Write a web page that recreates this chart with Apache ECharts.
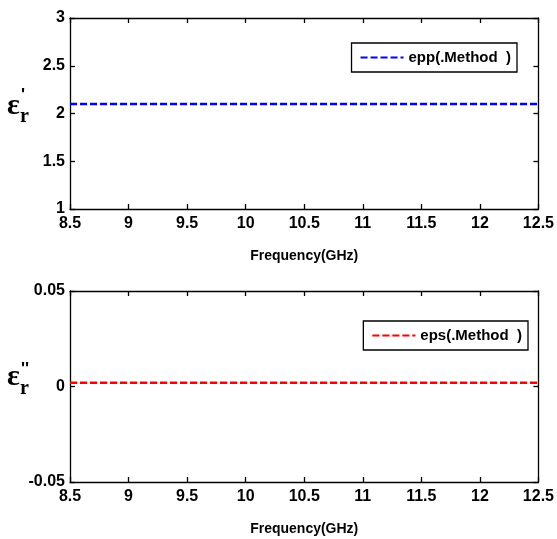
<!DOCTYPE html>
<html>
<head>
<meta charset="utf-8">
<script src="https://cdn.jsdelivr.net/npm/echarts@6/dist/echarts.min.js"></script>
<style>
html, body { margin: 0; padding: 0; background: #fff; }
#chart { width: 557px; height: 539px; }
</style>
</head>
<body>
<div id="chart"></div>
<script>
// 数据
var freq = [8.5, 9, 9.5, 10, 10.5, 11, 11.5, 12, 12.5];
var eppVals = [2.1, 2.1, 2.1, 2.1, 2.1, 2.1, 2.1, 2.1, 2.1];
var epsVals = [0.002, 0.002, 0.002, 0.002, 0.002, 0.002, 0.002, 0.002, 0.002];
var eppName = 'epp(.Method  )';
var epsName = 'eps(.Method  )';
var xLabel = 'Frequency(GHz)';

function pairs(xs, ys) {
    return xs.map(function (x, i) { return [x, ys[i]]; });
}

var sansBold = {color: '#000', fontFamily: 'Liberation Sans, Arial, sans-serif', fontWeight: 'bold'};

function xAx(gi, show) {
    return {
        type: 'value', gridIndex: gi, min: 8.5, max: 12.5, interval: 0.5,
        position: show ? 'bottom' : 'top',
        name: show ? xLabel : '',
        nameLocation: 'middle', nameGap: 40,
        nameTextStyle: Object.assign({fontSize: 14}, sansBold),
        axisLine: {show: true, onZero: false, lineStyle: {color: '#000', width: 1.3}},
        axisTick: {show: true, inside: true, length: 5, lineStyle: {color: '#000', width: 1.3}},
        axisLabel: Object.assign({show: show, fontSize: 16, margin: 7}, sansBold),
        splitLine: {show: false}
    };
}

function yAx(gi, min, max, step, show) {
    return {
        type: 'value', gridIndex: gi, min: min, max: max, interval: step,
        position: show ? 'left' : 'right',
        axisLine: {show: true, onZero: false, lineStyle: {color: '#000', width: 1.3}},
        axisTick: {show: true, inside: true, length: 5, lineStyle: {color: '#000', width: 1.3}},
        axisLabel: Object.assign({show: show, fontSize: 16, margin: 5}, sansBold),
        splitLine: {show: false}
    };
}

function legendBox(name, right, top) {
    return {
        data: [name], right: right, top: top,
        orient: 'horizontal',
        borderColor: '#000', borderWidth: 1.3,
        padding: [7, 6, 7, 8],
        itemWidth: 43, itemHeight: 16, itemGap: 7,
        itemStyle: {opacity: 0},
        textStyle: Object.assign({fontSize: 15}, sansBold)
    };
}

function epsLabel(primes, epsY, rY, primeY) {
    return [
        {type: 'text', x: 7, y: epsY, style: {text: 'ε', font: 'bold 30px "Liberation Serif", serif', fill: '#000', verticalAlign: 'middle'}},
        {type: 'text', x: 20, y: rY, style: {text: 'r', font: 'bold 20px "Liberation Serif", serif', fill: '#000', verticalAlign: 'middle'}},
        {type: 'text', x: 21, y: primeY, style: {text: primes, font: 'bold 17px "Liberation Sans", sans-serif', fill: '#000', verticalAlign: 'top'}}
    ];
}

var myChart = echarts.init(document.getElementById('chart'), null, {renderer: 'canvas'});
var options = {
    backgroundColor: '#fff',
    animation: false,
    grid: [
        {left: 70, right: 17, top: 18, height: 191},
        {left: 70, right: 17, top: 291, height: 191}
    ],
    xAxis: [xAx(0, true), xAx(1, true), xAx(0, false), xAx(1, false)],
    yAxis: [
        yAx(0, 1, 3, 0.5, true),
        yAx(1, -0.05, 0.05, 0.05, true),
        yAx(0, 1, 3, 0.5, false),
        yAx(1, -0.05, 0.05, 0.05, false)
    ],
    legend: [legendBox(eppName, 40, 43), legendBox(epsName, 29, 321)],
    graphic: epsLabel("'", 106, 117, 87).concat(epsLabel("''", 377, 389, 361)),
    series: [
        {
            name: eppName, type: 'line', xAxisIndex: 0, yAxisIndex: 0,
            symbol: 'none', data: pairs(freq, eppVals),
            itemStyle: {color: '#0000ff'},
            lineStyle: {color: '#0000ff', width: 2.5, type: [7, 3]}
        },
        {
            name: epsName, type: 'line', xAxisIndex: 1, yAxisIndex: 1,
            symbol: 'none', data: pairs(freq, epsVals),
            itemStyle: {color: '#ff0000'},
            lineStyle: {color: '#ff0000', width: 2.5, type: [7, 3]}
        }
    ]
};
myChart.setOption(options);
</script>
</body>
</html>
